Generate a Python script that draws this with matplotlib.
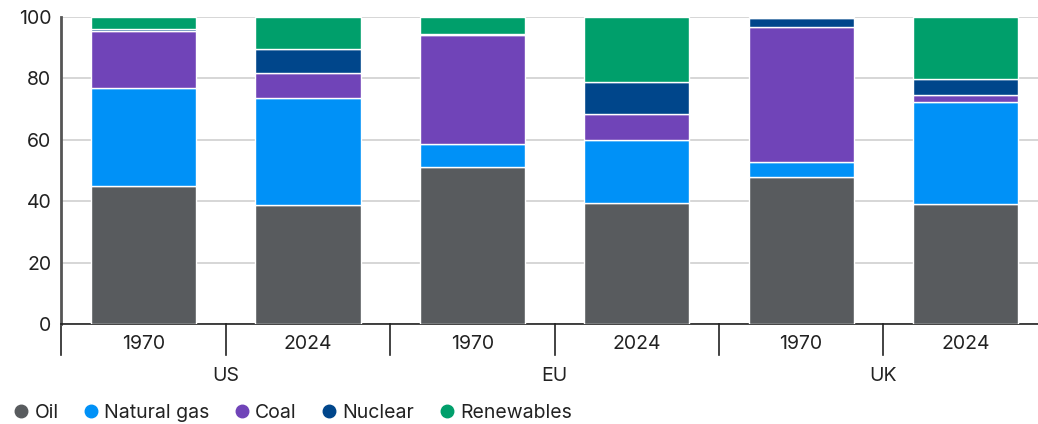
import matplotlib
matplotlib.use("Agg")
import matplotlib.pyplot as plt
from matplotlib.lines import Line2D
import numpy as np

plt.rcParams["font.family"] = ["Inter", "DejaVu Sans"]

regions = ["US", "EU", "UK"]
years = ["1970", "2024"]
sources = ["Oil", "Natural gas", "Coal", "Nuclear", "Renewables"]
colors = ["#585b5e", "#0091f7", "#7044b8", "#00468b", "#009f6b"]

# share of primary energy (%), bars in order US70, US24, EU70, EU24, UK70, UK24
oil = [45.0, 38.8, 51.0, 39.4, 48.0, 39.1]
gas = [32.0, 34.8, 7.5, 20.6, 4.7, 33.1]
coal = [18.5, 8.3, 35.5, 8.4, 43.9, 2.4]
nuclear = [0.5, 7.8, 0.6, 10.3, 3.0, 5.2]
renewables = [4.0, 10.3, 5.4, 21.3, 0.4, 20.2]
series = [oil, gas, coal, nuclear, renewables]

fig = plt.figure(figsize=(10.38, 4.24), dpi=100)
ax = fig.add_axes([61 / 1038, 100 / 424, 1 - 61 / 1038, 307 / 424])

x = np.arange(len(oil))
bottom = np.zeros(len(oil))
for vals, col in zip(series, colors):
    ax.bar(x, vals, width=0.64, bottom=bottom, color=col, edgecolor="white", linewidth=1, zorder=3)
    bottom += np.array(vals)

ax.set_ylim(0, 100)
ax.set_xlim(-0.502, 5.441)
ax.set_yticks([0, 20, 40, 60, 80, 100])
ax.tick_params(axis="y", length=0, labelsize=14, pad=7, colors="#222222")
ax.set_xticks([])
ax.grid(axis="y", color="#d0d0d0", linewidth=1.2, zorder=0)
for s in ["top", "right"]:
    ax.spines[s].set_visible(False)
ax.spines["left"].set_color("#555555")
ax.spines["left"].set_linewidth(2)
ax.spines["bottom"].set_color("#222222")
ax.spines["bottom"].set_linewidth(1.2)

tr = ax.get_xaxis_transform()
for sx in np.arange(-0.5, 5.0, 1.0):
    ax.plot([sx, sx], [0, -0.101], transform=tr, color="#222222", lw=1.2, clip_on=False)
for i in x:
    ax.text(i, -0.065, years[i % 2], transform=tr, ha="center", va="center", fontsize=14, color="#222222")
for j, r in enumerate(regions):
    ax.text(2 * j + 0.5, -0.17, r, transform=tr, ha="center", va="center", fontsize=14, color="#222222")

handles = [Line2D([], [], marker="o", ls="", color=c, markersize=9) for c in colors]
fig.legend(handles, sources, loc="center left", bbox_to_anchor=(-0.008, 11 / 424), ncol=5,
           frameon=False, fontsize=14, handletextpad=0.1, columnspacing=1.05, handlelength=1.2,
           labelcolor="#222222")

fig.savefig("out.png", dpi=100)
